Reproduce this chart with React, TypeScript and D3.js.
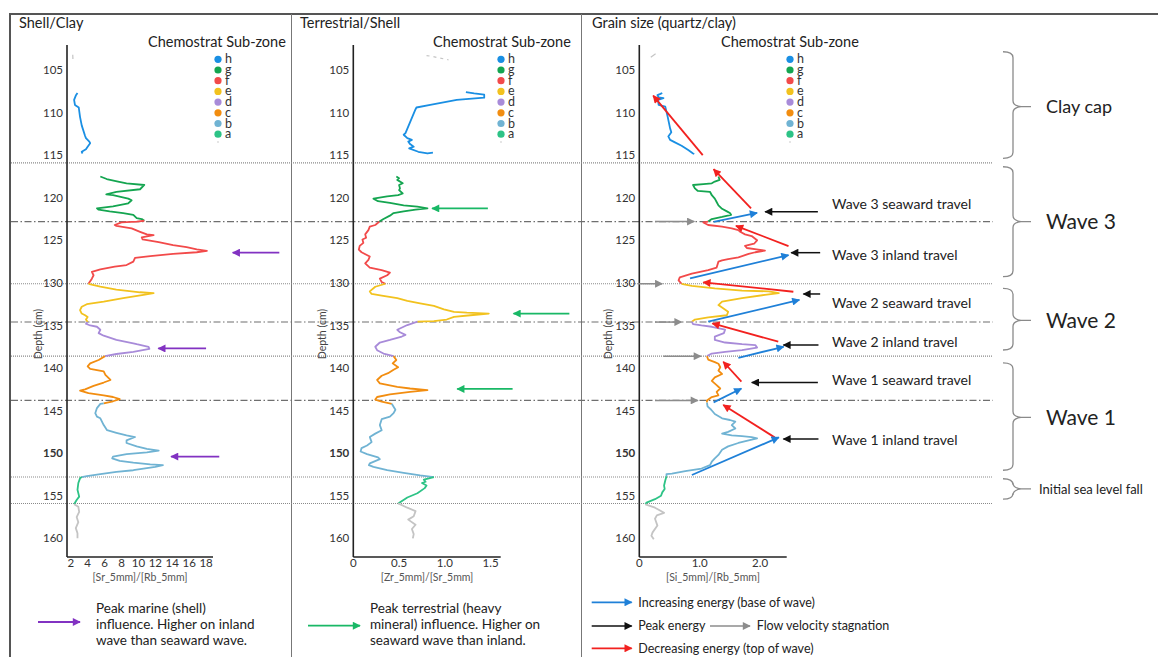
import React from 'react';
import * as d3 from 'd3';

// ---------- categories / ticks ----------
const ZONES = ['h', 'g', 'f', 'e', 'd', 'c', 'b', 'a'];
const ZONE_COLORS = ['#1a8fe3', '#14a550', '#f24a4a', '#f2c21e', '#a88bd9', '#f28d10', '#70b3d3', '#2dc386'];
const GRAY_COLOR = '#c4c4c4';
const DEPTH_TICKS = [105, 110, 115, 120, 125, 130, 135, 140, 145, 150, 155, 160];
const SR_RB_TICKS = [2, 4, 6, 8, 10, 12, 14, 16, 18];
const ZR_SR_TICKS = [0, 0.5, 1, 1.5];
const SI_RB_TICKS = [0, 1, 2];

// zone boundaries (depth cm) and their line style
const BOUNDARY_DEPTHS = [115.9, 122.8, 130.1, 134.6, 138.6, 143.8, 152.8, 155.9];
const BOUNDARY_STYLES = ['dot', 'dashdot', 'dot', 'dashdot', 'dot', 'dashdot', 'dot', 'dot'];

// ---------- Shell/Clay : [depth, Sr/Rb] ----------
const SR_RB_TOP: [number, number][] = [[103.2, 2.24], [103.7, 2.26]];
const SR_RB_H: [number, number][] = [[107.7, 2.8], [108.0, 2.6], [108.5, 2.4], [109.1, 2.5], [109.4, 2.95], [110.5, 3.1], [111.5, 3.3], [112.75, 3.7], [113.0, 3.8], [113.4, 4.2], [113.6, 4.3], [114.0, 4.0], [114.3, 3.8], [114.6, 3.3], [114.8, 3.4]];
const SR_RB_G: [number, number][] = [[117.5, 5.5], [117.8, 6.25], [118.1, 7.6], [118.3, 8.6], [118.5, 10.7], [119.0, 10.2], [119.3, 7.4], [119.6, 6.2], [119.7, 7.0], [120.1, 8.8], [120.3, 9.2], [120.65, 8.8], [121.0, 7.0], [121.25, 5.1], [121.4, 5.3], [121.6, 6.6], [121.8, 8.2], [122.0, 9.4], [122.4, 9.8], [122.5, 10.4], [122.7, 10.7]];
const SR_RB_F: [number, number][] = [[122.7, 10.7], [122.8, 9.8], [122.9, 8.0], [123.2, 7.2], [123.3, 7.4], [123.6, 9.2], [124.0, 10.2], [124.3, 11.0], [124.4, 11.8], [124.65, 10.4], [124.9, 10.5], [125.2, 12.4], [125.55, 14.1], [125.8, 15.7], [126.05, 16.9], [126.25, 18.1], [126.4, 16.9], [126.6, 14.1], [126.85, 11.4], [127.05, 9.6], [127.5, 9.4], [127.9, 8.6], [128.1, 7.2], [128.4, 5.5], [128.7, 4.5], [129.1, 4.7], [129.5, 4.5], [130.1, 4.1]];
const SR_RB_E: [number, number][] = [[130.1, 4.1], [130.45, 5.5], [130.8, 7.4], [131.1, 10.2], [131.2, 11.8], [131.4, 10.6], [131.8, 8.2], [132.2, 5.9], [132.5, 3.9], [132.8, 3.3], [133.2, 3.1], [133.6, 3.3], [133.8, 3.7], [134.0, 4.0], [134.3, 3.8], [134.6, 4.0]];
const SR_RB_D: [number, number][] = [[134.6, 4.0], [134.8, 3.8], [135.0, 4.3], [135.15, 5.1], [135.5, 5.5], [135.9, 5.3], [136.2, 5.9], [136.7, 7.4], [137.1, 9.4], [137.2, 9.8], [137.5, 11.2], [137.75, 11.3], [138.1, 9.4], [138.35, 7.4], [138.6, 6.05]];
const SR_RB_C: [number, number][] = [[138.6, 6.05], [139.05, 5.3], [139.45, 4.3], [139.8, 4.0], [140.1, 4.3], [140.4, 5.9], [140.8, 6.1], [141.4, 6.7], [141.7, 5.9], [142.1, 4.7], [142.5, 3.7], [142.65, 3.1], [142.95, 4.1], [143.2, 5.9], [143.4, 7.0], [143.65, 7.8], [143.9, 7.0], [144.15, 5.9]];
const SR_RB_B: [number, number][] = [[144.15, 5.9], [144.2, 5.5], [144.7, 5.1], [145.3, 4.9], [145.7, 5.1], [145.9, 5.5], [146.7, 5.9], [147.3, 6.3], [147.6, 7.4], [147.9, 8.6], [148.1, 9.6], [148.5, 8.6], [148.8, 8.6], [149.2, 9.8], [149.5, 11.0], [149.7, 12.4], [149.9, 11.0], [150.1, 8.6], [150.4, 7.0], [150.6, 6.9], [150.9, 7.8], [151.1, 9.4], [151.3, 11.4], [151.4, 12.9], [151.6, 12.0], [152.0, 9.4], [152.2, 7.4], [152.45, 5.5], [152.7, 3.9], [152.8, 3.3]];
const SR_RB_A: [number, number][] = [[152.8, 3.3], [152.95, 3.1], [153.5, 2.9], [154.3, 2.8], [155.1, 3.0], [155.5, 2.7], [156.0, 2.4]];
const SR_RB_BASE: [number, number][] = [[156.0, 2.4], [156.3, 2.9], [156.9, 3.0], [157.5, 2.7], [158.1, 2.9], [158.8, 2.6], [159.4, 2.8], [160.0, 2.8]];

// ---------- Terrestrial/Shell : [depth, Zr/Sr] ----------
const ZR_SR_TOP: [number, number][] = [[103.3, 0.8], [103.4, 0.86], [103.6, 0.95], [103.8, 1.04]];
const ZR_SR_H: [number, number][] = [[107.6, 1.23], [107.75, 1.32], [107.9, 1.43], [108.25, 1.43], [108.5, 1.13], [109.1, 0.84], [109.4, 0.69], [109.6, 0.68], [112.4, 0.57], [112.6, 0.55], [113.0, 0.59], [113.2, 0.64], [113.4, 0.6], [113.7, 0.62], [114.0, 0.66], [114.2, 0.61], [114.6, 0.71], [114.8, 0.81], [114.7, 0.87]];
const ZR_SR_G: [number, number][] = [[117.5, 0.47], [117.7, 0.5], [117.9, 0.48], [118.3, 0.54], [118.5, 0.5], [118.9, 0.51], [119.1, 0.5], [119.5, 0.54], [119.7, 0.49], [119.85, 0.37], [120.1, 0.22], [120.4, 0.27], [120.6, 0.4], [120.9, 0.55], [121.05, 0.7], [121.25, 0.81], [121.4, 0.68], [121.6, 0.55], [121.8, 0.44], [122.1, 0.4], [122.5, 0.33], [122.8, 0.285]];
const ZR_SR_F: [number, number][] = [[122.8, 0.285], [123.2, 0.24], [123.4, 0.18], [123.8, 0.165], [124.3, 0.13], [124.7, 0.14], [124.9, 0.1], [125.3, 0.11], [125.65, 0.07], [126.1, 0.06], [126.4, 0.09], [126.9, 0.18], [127.3, 0.165], [127.7, 0.13], [128.2, 0.18], [128.5, 0.31], [128.8, 0.4], [129.1, 0.37], [129.5, 0.29], [129.9, 0.31], [130.1, 0.35]];
const ZR_SR_E: [number, number][] = [[130.1, 0.35], [130.45, 0.24], [131.0, 0.18], [131.3, 0.2], [131.5, 0.31], [131.8, 0.48], [132.1, 0.59], [132.4, 0.73], [132.7, 0.88], [133.1, 0.99], [133.4, 1.1], [133.5, 1.24], [133.6, 1.48], [133.8, 1.28], [134.0, 1.1], [134.3, 1.02], [134.5, 0.88], [134.55, 0.7]];
const ZR_SR_D: [number, number][] = [[134.55, 0.7], [134.95, 0.59], [135.5, 0.48], [135.8, 0.51], [136.1, 0.57], [136.3, 0.53], [136.7, 0.4], [137.0, 0.29], [137.5, 0.24], [137.9, 0.26], [138.3, 0.33], [138.6, 0.44]];
const ZR_SR_C: [number, number][] = [[138.6, 0.44], [139.05, 0.47], [139.45, 0.43], [139.9, 0.49], [140.2, 0.44], [140.6, 0.38], [140.9, 0.31], [141.4, 0.26], [141.8, 0.29], [142.2, 0.48], [142.4, 0.62], [142.6, 0.81], [142.8, 0.62], [143.1, 0.4], [143.4, 0.26], [143.7, 0.24], [143.95, 0.31], [144.2, 0.42]];
const ZR_SR_B: [number, number][] = [[144.2, 0.42], [144.9, 0.46], [145.3, 0.44], [145.7, 0.4], [146.0, 0.31], [146.7, 0.29], [147.3, 0.31], [147.7, 0.24], [148.1, 0.18], [148.7, 0.2], [149.1, 0.15], [149.4, 0.09], [149.8, 0.08], [150.1, 0.15], [150.5, 0.27], [150.7, 0.29], [151.2, 0.18], [151.4, 0.17], [151.6, 0.22], [152.0, 0.37], [152.3, 0.55], [152.6, 0.73], [152.8, 0.88]];
const ZR_SR_A: [number, number][] = [[152.8, 0.88], [153.1, 0.77], [153.35, 0.79], [153.5, 0.75], [153.8, 0.8], [154.1, 0.78], [154.7, 0.7], [155.2, 0.59], [155.9, 0.49]];
const ZR_SR_BASE: [number, number][] = [[155.9, 0.49], [156.4, 0.59], [156.8, 0.68], [157.4, 0.66], [157.8, 0.6], [158.4, 0.68], [158.9, 0.64], [159.5, 0.66], [160.0, 0.65]];

// ---------- Grain size : [depth, Si/Rb] ----------
const SI_RB_TOP: [number, number][] = [[103.1, 0.27], [103.5, 0.19]];
const SI_RB_H: [number, number][] = [[107.7, 0.38], [107.8, 0.35], [107.95, 0.3], [108.2, 0.32], [108.3, 0.4], [108.5, 0.31], [109.1, 0.32], [109.3, 0.43], [110.5, 0.47], [111.85, 0.51], [112.3, 0.53], [112.8, 0.48], [113.2, 0.51], [113.5, 0.59], [113.9, 0.7], [114.4, 0.81], [114.8, 0.89], [114.85, 0.91]];
const SI_RB_G: [number, number][] = [[117.5, 1.31], [117.9, 1.33], [118.1, 1.25], [118.3, 1.2], [118.4, 1.06], [118.5, 0.89], [118.9, 0.92], [119.2, 0.97], [119.3, 1.17], [119.7, 1.2], [120.1, 1.25], [120.5, 1.28], [120.9, 1.31], [121.3, 1.37], [121.6, 1.45], [121.8, 1.5], [122.0, 1.52], [122.25, 1.37], [122.5, 1.2], [122.8, 1.14]];
const SI_RB_F: [number, number][] = [[122.8, 1.14], [122.9, 1.06], [123.2, 1.14], [123.4, 1.37], [123.6, 1.53], [123.8, 1.64], [124.0, 1.67], [124.3, 1.75], [124.5, 1.86], [125.0, 1.95], [125.4, 1.9], [125.65, 1.75], [125.9, 1.78], [126.1, 1.97], [126.2, 2.08], [126.4, 1.92], [126.6, 1.81], [127.0, 1.64], [127.2, 1.47], [127.35, 1.37], [127.5, 1.31], [128.2, 1.28], [128.5, 1.14], [128.9, 0.87], [129.35, 0.67], [129.7, 0.65], [130.1, 0.7]];
const SI_RB_E: [number, number][] = [[130.1, 0.7], [130.35, 0.87], [130.65, 1.25], [130.9, 1.7], [131.0, 2.14], [131.2, 2.31], [131.4, 2.08], [131.8, 1.7], [132.2, 1.37], [132.6, 1.31], [132.9, 1.37], [133.4, 1.47], [133.8, 1.45], [134.05, 1.14], [134.3, 0.92], [134.55, 0.87]];
const SI_RB_D: [number, number][] = [[134.55, 0.87], [134.85, 0.89], [135.0, 1.03], [135.15, 1.2], [135.5, 1.42], [135.9, 1.4], [136.3, 1.25], [136.7, 1.25], [137.0, 1.42], [137.2, 1.7], [137.3, 1.92], [137.6, 1.95], [137.9, 1.7], [138.1, 1.42], [138.3, 1.2], [138.6, 1.12]];
const SI_RB_C: [number, number][] = [[138.6, 1.12], [139.0, 1.14], [139.3, 1.25], [139.5, 1.31], [139.9, 1.34], [140.3, 1.31], [140.7, 1.37], [141.1, 1.25], [141.5, 1.2], [142.0, 1.28], [142.4, 1.34], [142.8, 1.28], [143.2, 1.31], [143.4, 1.2], [143.8, 1.12], [144.05, 1.12]];
const SI_RB_B: [number, number][] = [[144.05, 1.12], [144.5, 1.13], [144.9, 1.19], [145.4, 1.25], [145.9, 1.37], [146.1, 1.5], [146.3, 1.59], [146.7, 1.53], [147.1, 1.59], [147.5, 1.47], [147.7, 1.37], [147.9, 1.53], [148.0, 1.7], [148.1, 1.86], [148.25, 1.95], [148.5, 1.81], [148.8, 1.64], [149.2, 1.47], [149.6, 1.37], [150.2, 1.31], [150.6, 1.25], [151.0, 1.2], [151.4, 1.17], [151.8, 1.03], [152.1, 0.76], [152.4, 0.54], [152.45, 0.45], [152.7, 0.45]];
const SI_RB_A: [number, number][] = [[152.7, 0.45], [153.2, 0.43], [153.8, 0.41], [154.2, 0.42], [154.6, 0.38], [155.0, 0.36], [155.4, 0.26], [155.8, 0.12], [156.0, 0.1]];
const SI_RB_BASE: [number, number][] = [[156.0, 0.1], [156.4, 0.26], [157.0, 0.41], [157.3, 0.29], [157.7, 0.26], [158.5, 0.3], [159.3, 0.22], [159.7, 0.2], [160.1, 0.24]];

// ---------- annotation arrows (data coordinates) ----------
// [depth, fromValue, toValue]
const SHELL_PEAK_ARROWS: [number, number, number][] = [[126.45, 26.66, 21.15], [137.7, 18.0, 12.35], [150.4, 19.56, 13.86]];
const TERR_PEAK_ARROWS: [number, number, number][] = [[121.25, 1.47, 0.86], [133.6, 2.36, 1.75], [142.45, 1.74, 1.135]];
// [depthFrom, valueFrom, depthTo, valueTo]
const DECREASING_ARROWS: [number, number, number, number][] = [[115.0, 1.05, 108.0, 0.23], [121.25, 1.85, 116.65, 1.23], [125.67, 2.47, 123.3, 1.6], [131.04, 2.55, 129.93, 1.06], [136.9, 2.3, 134.75, 1.21], [141.6, 1.69, 139.26, 1.39], [148.14, 2.24, 144.34, 1.39]];
const INCREASING_ARROWS: [number, number, number, number][] = [[122.82, 1.23, 121.77, 1.95], [129.46, 0.84, 126.73, 2.47], [134.56, 1.14, 132.0, 2.65], [138.79, 1.64, 137.5, 2.39], [144.03, 1.23, 142.4, 1.69], [152.56, 0.87, 148.14, 2.31]];
const PEAK_ARROWS: [number, number, number][] = [[121.64, 2.956, 2.083], [126.45, 2.994, 2.514], [131.3, 2.994, 2.717], [137.3, 2.966, 2.386], [141.7, 2.956, 1.862], [148.33, 2.966, 2.386]];
const STAGNATION_ARROWS: [number, number, number][] = [[122.8, 0.26, 0.91], [130.1, -0.02, 0.38], [134.6, 0.26, 0.7], [138.6, 0.4, 1.02], [143.8, 0.26, 0.97]];

// wave labels [depth, text]
const WAVE_LABEL_DEPTHS = [120.74, 126.73, 132.33, 136.9, 141.4, 148.5];
const WAVE_LABELS = ['Wave 3 seaward travel', 'Wave 3 inland travel', 'Wave 2 seaward travel', 'Wave 2 inland travel', 'Wave 1 seaward travel', 'Wave 1 inland travel'];
// braces [top depth, bottom depth, tip depth]
const BRACE_RANGES: [number, number, number][] = [[102.85, 115.37, 109.3], [116.36, 129.27, 122.8], [130.64, 137.88, 134.4], [139.4, 152.0, 145.8], [153.0, 155.4, 154.2]];
const BRACE_LABELS = ['Clay cap', 'Wave 3', 'Wave 2', 'Wave 1', 'Initial sea level fall'];
const BRACE_SIZES = [18, 21, 21, 21, 13];

const FONT = "Lato, 'Open Sans', sans-serif";
const W = 1158;
const H = 657;

const yScale = d3.scaleLinear().domain([102.06, 162.19]).range([45, 557]);

type Panel = {
  title: string;
  titleX: number;
  xLabel: string;
  x: d3.ScaleLinear<number, number>;
  ticks: number[];
  tickFmt: (v: number) => string;
  legendX: number;
  dotX: number;
  depthLabelX: number;
  series: [[number, number][], string][];
};

const panels: Panel[] = [
  {
    title: 'Shell/Clay', titleX: 19, xLabel: '[Sr_5mm]/[Rb_5mm]',
    x: d3.scaleLinear().domain([1.56, 18.82]).range([67, 213]),
    ticks: SR_RB_TICKS, tickFmt: (v) => String(v),
    legendX: 148, dotX: 218, depthLabelX: 38,
    series: [[SR_RB_TOP, GRAY_COLOR], [SR_RB_H, ZONE_COLORS[0]], [SR_RB_G, ZONE_COLORS[1]], [SR_RB_F, ZONE_COLORS[2]], [SR_RB_E, ZONE_COLORS[3]], [SR_RB_D, ZONE_COLORS[4]], [SR_RB_C, ZONE_COLORS[5]], [SR_RB_B, ZONE_COLORS[6]], [SR_RB_A, ZONE_COLORS[7]], [SR_RB_BASE, GRAY_COLOR]],
  },
  {
    title: 'Terrestrial/Shell', titleX: 300, xLabel: '[Zr_5mm]/[Sr_5mm]',
    x: d3.scaleLinear().domain([0, 1.61]).range([353.3, 500.7]),
    ticks: ZR_SR_TICKS, tickFmt: (v) => (v === 0 ? '0' : v.toFixed(1)),
    legendX: 433, dotX: 501, depthLabelX: 322,
    series: [[ZR_SR_TOP, GRAY_COLOR], [ZR_SR_H, ZONE_COLORS[0]], [ZR_SR_G, ZONE_COLORS[1]], [ZR_SR_F, ZONE_COLORS[2]], [ZR_SR_E, ZONE_COLORS[3]], [ZR_SR_D, ZONE_COLORS[4]], [ZR_SR_C, ZONE_COLORS[5]], [ZR_SR_B, ZONE_COLORS[6]], [ZR_SR_A, ZONE_COLORS[7]], [ZR_SR_BASE, GRAY_COLOR]],
  },
  {
    title: 'Grain size (quartz/clay)', titleX: 592, xLabel: '[Si_5mm]/[Rb_5mm]',
    x: d3.scaleLinear().domain([0, 2.44]).range([639.3, 786.7]),
    ticks: SI_RB_TICKS, tickFmt: (v) => (v === 0 ? '0' : v.toFixed(1)),
    legendX: 721, dotX: 790, depthLabelX: 608,
    series: [[SI_RB_TOP, GRAY_COLOR], [SI_RB_H, ZONE_COLORS[0]], [SI_RB_G, ZONE_COLORS[1]], [SI_RB_F, ZONE_COLORS[2]], [SI_RB_E, ZONE_COLORS[3]], [SI_RB_D, ZONE_COLORS[4]], [SI_RB_C, ZONE_COLORS[5]], [SI_RB_B, ZONE_COLORS[6]], [SI_RB_A, ZONE_COLORS[7]], [SI_RB_BASE, GRAY_COLOR]],
  },
];

const ARROW_COLORS: Record<string, string> = {
  purple: '#8232c2', green: '#19b866', blue: '#1f80d8', red: '#f2211f', black: '#111111', gray: '#8c8c8c',
};

function bracePath(x0: number, x1: number, xt: number, yt: number, yb: number, ym: number) {
  return `M${x0},${yt} Q${x1},${yt} ${x1},${yt + 6} L${x1},${ym - 6} Q${x1},${ym - 1} ${x1 + 8},${ym} L${xt},${ym} M${x1 + 8},${ym} Q${x1},${ym + 1} ${x1},${ym + 6} L${x1},${yb - 6} Q${x1},${yb} ${x0},${yb}`;
}

export default function App() {
  const p3 = panels[2];
  const p1 = panels[0];
  const p2 = panels[1];
  return (
    <div style={{ position: 'absolute', left: 0, top: 0, width: W, height: H, background: '#fff' }}>
      <svg width={W} height={H} style={{ display: 'block', fontFamily: FONT }}>
        <defs>
          {Object.entries(ARROW_COLORS).map(([k, c]) => (
            <marker key={k} id={`ah-${k}`} viewBox="0 0 10 10" refX={9} refY={5} markerWidth={9} markerHeight={8} markerUnits="userSpaceOnUse" orient="auto">
              <path d="M0,0 L10,5 L0,10 z" fill={c} />
            </marker>
          ))}
        </defs>
        <rect x={0} y={0} width={W} height={H} fill="#fff" />
        {/* frame */}
        <line x1={10} x2={W} y1={14} y2={14} stroke="#555" strokeWidth={2} />
        <line x1={10} x2={10} y1={13} y2={H} stroke="#555" strokeWidth={2} />
        <line x1={291.5} x2={291.5} y1={14} y2={H} stroke="#777" strokeWidth={1} />
        <line x1={581.5} x2={581.5} y1={14} y2={H} stroke="#777" strokeWidth={1} />

        {/* zone boundaries */}
        {BOUNDARY_DEPTHS.map((d, i) => (
          <line key={i} x1={11} x2={993} y1={yScale(d)} y2={yScale(d)}
            stroke={BOUNDARY_STYLES[i] === 'dot' ? '#8a8a8a' : '#6f6f6f'} strokeWidth={1.1}
            strokeDasharray={BOUNDARY_STYLES[i] === 'dot' ? '1,1' : '7,2.5,1.5,2.5'} />
        ))}

        {panels.map((p, pi) => {
          const x0 = p.x.range()[0];
          const x1 = p.x.range()[1];
          const line = d3.line<[number, number]>().x((d) => p.x(d[1])).y((d) => yScale(d[0]));
          return (
            <g key={pi}>
              <text x={p.titleX} y={28} fontSize={14.5} fill="#222">{p.title}</text>
              <text x={p.legendX} y={47} fontSize={14.5} fill="#222">Chemostrat Sub-zone</text>
              {ZONES.map((z, i) => (
                <g key={z}>
                  <circle cx={p.dotX} cy={59.3 + i * 10.7} r={3.6} fill={ZONE_COLORS[i]} />
                  <text x={p.dotX + 7} y={63.3 + i * 10.7} fontSize={12.5} fill="#333">{z}</text>
                </g>
              ))}
              <circle cx={p.dotX} cy={142} r={1} fill="#ddd" />
              {/* axes */}
              <line x1={x0} x2={x0} y1={yScale.range()[0]} y2={yScale.range()[1]} stroke="#222" strokeWidth={1.6} />
              <line x1={x0} x2={x1} y1={yScale.range()[1]} y2={yScale.range()[1]} stroke="#222" strokeWidth={1.6} />
              {DEPTH_TICKS.map((t) => (
                <text key={t} x={x0 - 4} y={yScale(t)} dy="0.35em" textAnchor="end" fontSize={11.5}
                  fontWeight={t === 150 ? 'bold' : 'normal'} fill="#333">{t}</text>
              ))}
              {p.ticks.map((t) => (
                <text key={t} x={p.x(t)} y={567} textAnchor="middle" fontSize={11.5} fill="#333">{p.tickFmt(t)}</text>
              ))}
              <text x={(x0 + x1) / 2} y={581} textAnchor="middle" fontSize={10.5} fill="#555">{p.xLabel}</text>
              <text transform={`translate(${p.depthLabelX},${yScale(136)}) rotate(-90)`} textAnchor="middle" dy="0.35em" fontSize={10.5} fill="#444">Depth (cm)</text>
              {/* data */}
              {p.series.map(([pts, col], si) => (
                <path key={si} d={line(pts) || ''} fill="none" stroke={col} strokeWidth={si === 0 ? 1.2 : 1.8}
                  strokeLinejoin="round" strokeDasharray={si === 0 && pi === 1 ? '3,4' : undefined} />
              ))}
            </g>
          );
        })}

        {/* Shell/Clay peak marine arrows */}
        {SHELL_PEAK_ARROWS.map(([d, a, b], i) => (
          <line key={i} x1={p1.x(a)} x2={p1.x(b)} y1={yScale(d)} y2={yScale(d)} stroke={ARROW_COLORS.purple} strokeWidth={1.8} markerEnd="url(#ah-purple)" />
        ))}
        {/* Terrestrial peak arrows */}
        {TERR_PEAK_ARROWS.map(([d, a, b], i) => (
          <line key={i} x1={p2.x(a)} x2={p2.x(b)} y1={yScale(d)} y2={yScale(d)} stroke={ARROW_COLORS.green} strokeWidth={1.8} markerEnd="url(#ah-green)" />
        ))}
        {/* Grain size energy arrows */}
        {DECREASING_ARROWS.map(([d0, v0, d1, v1], i) => (
          <line key={`r${i}`} x1={p3.x(v0)} y1={yScale(d0)} x2={p3.x(v1)} y2={yScale(d1)} stroke={ARROW_COLORS.red} strokeWidth={1.8} markerEnd="url(#ah-red)" />
        ))}
        {INCREASING_ARROWS.map(([d0, v0, d1, v1], i) => (
          <line key={`b${i}`} x1={p3.x(v0)} y1={yScale(d0)} x2={p3.x(v1)} y2={yScale(d1)} stroke={ARROW_COLORS.blue} strokeWidth={1.8} markerEnd="url(#ah-blue)" />
        ))}
        {PEAK_ARROWS.map(([d, a, b], i) => (
          <line key={`k${i}`} x1={p3.x(a)} x2={p3.x(b)} y1={yScale(d)} y2={yScale(d)} stroke={ARROW_COLORS.black} strokeWidth={1.5} markerEnd="url(#ah-black)" />
        ))}
        {STAGNATION_ARROWS.map(([d, a, b], i) => (
          <line key={`g${i}`} x1={p3.x(a)} x2={p3.x(b)} y1={yScale(d)} y2={yScale(d)} stroke={ARROW_COLORS.gray} strokeWidth={1.5} markerEnd="url(#ah-gray)" />
        ))}

        {/* wave travel labels */}
        {WAVE_LABELS.map((t, i) => (
          <text key={t} x={832} y={yScale(WAVE_LABEL_DEPTHS[i])} dy="0.35em" fontSize={14} fill="#222">{t}</text>
        ))}
        {/* braces */}
        {BRACE_RANGES.map(([t, b, m], i) => (
          <g key={i}>
            <path d={bracePath(1003, 1013, 1031, yScale(t), yScale(b), yScale(m))} fill="none" stroke="#8a8a8a" strokeWidth={1.3} />
            <text x={i === 4 ? 1039 : 1046} y={yScale(m)} dy="0.35em" fontSize={BRACE_SIZES[i]} fill="#222">{BRACE_LABELS[i]}</text>
          </g>
        ))}

        {/* bottom legends */}
        <line x1={38} x2={80} y1={622} y2={622} stroke={ARROW_COLORS.purple} strokeWidth={1.8} markerEnd="url(#ah-purple)" />
        {['Peak marine (shell)', 'influence. Higher on inland', 'wave than seaward wave.'].map((t, i) => (
          <text key={t} x={96} y={613 + i * 16} fontSize={13.5} fill="#222">{t}</text>
        ))}
        <line x1={308} x2={360} y1={625.7} y2={625.7} stroke={ARROW_COLORS.green} strokeWidth={1.8} markerEnd="url(#ah-green)" />
        {['Peak terrestrial (heavy', 'mineral) influence. Higher on', 'seaward wave than inland.'].map((t, i) => (
          <text key={t} x={370} y={613 + i * 16} fontSize={13.5} fill="#222">{t}</text>
        ))}
        <line x1={591.7} x2={631.7} y1={602.3} y2={602.3} stroke={ARROW_COLORS.blue} strokeWidth={1.8} markerEnd="url(#ah-blue)" />
        <text x={638.3} y={602.3} dy="0.35em" fontSize={12.5} fill="#222">Increasing energy (base of wave)</text>
        <line x1={591.7} x2={631.7} y1={626} y2={626} stroke={ARROW_COLORS.black} strokeWidth={1.5} markerEnd="url(#ah-black)" />
        <text x={638.3} y={626} dy="0.35em" fontSize={12.5} fill="#222">Peak energy</text>
        <line x1={710} x2={750} y1={626} y2={626} stroke={ARROW_COLORS.gray} strokeWidth={1.5} markerEnd="url(#ah-gray)" />
        <text x={756.7} y={626} dy="0.35em" fontSize={12.5} fill="#222">Flow velocity stagnation</text>
        <line x1={591.7} x2={631.7} y1={648.3} y2={648.3} stroke={ARROW_COLORS.red} strokeWidth={1.8} markerEnd="url(#ah-red)" />
        <text x={638.3} y={648.3} dy="0.35em" fontSize={12.5} fill="#222">Decreasing energy (top of wave)</text>
      </svg>
    </div>
  );
}
